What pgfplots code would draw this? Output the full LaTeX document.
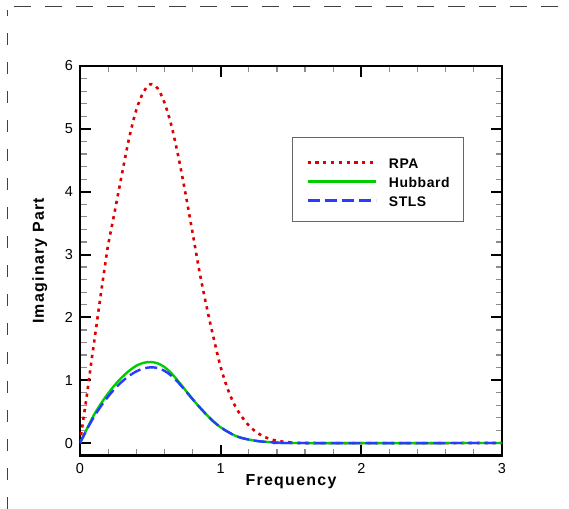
\documentclass[border=0pt]{standalone}
\usepackage{pgfplots}
\pgfplotsset{compat=1.18}
\usepackage{fontspec}
\setmainfont{Liberation Sans}
\newfontfamily\lblfont[LetterSpace=8]{Liberation Sans}
\newfontfamily\legfont[LetterSpace=4]{Liberation Sans}

\definecolor{rpared}{RGB}{222,0,0}
\definecolor{hubgreen}{RGB}{0,205,0}
\definecolor{stlsblue}{RGB}{40,60,255}

\pgfplotstableread{
x y
0 0
0.025 0.40
0.05 0.78
0.075 1.20
0.1 1.60
0.125 2.00
0.15 2.40
0.175 2.78
0.2 3.15
0.25 3.72
0.3 4.30
0.35 4.86
0.4 5.30
0.45 5.58
0.5 5.71
0.55 5.65
0.6 5.42
0.65 5.05
0.7 4.55
0.75 3.97
0.8 3.35
0.85 2.72
0.9 2.17
0.95 1.67
1.0 1.21
1.05 0.86
1.1 0.60
1.15 0.42
1.2 0.28
1.25 0.18
1.3 0.11
1.35 0.065
1.4 0.035
1.45 0.02
1.5 0.01
1.6 0.0
3.0 0.0
}\rpa

\pgfplotstableread{
x y
0 0
0.05 0.23
0.1 0.45
0.15 0.63
0.2 0.79
0.25 0.93
0.3 1.05
0.35 1.15
0.4 1.23
0.45 1.275
0.5 1.29
0.55 1.27
0.6 1.21
0.65 1.11
0.7 0.98
0.75 0.84
0.8 0.70
0.85 0.57
0.9 0.45
0.95 0.34
1.0 0.25
1.05 0.18
1.1 0.12
1.15 0.08
1.2 0.055
1.25 0.035
1.3 0.022
1.4 0.008
1.5 0.0
3.0 0.0
}\hubbard

\pgfplotstableread{
x y
0 0
0.05 0.22
0.1 0.42
0.15 0.59
0.2 0.74
0.25 0.87
0.3 0.98
0.35 1.07
0.4 1.14
0.45 1.185
0.5 1.205
0.55 1.195
0.6 1.15
0.65 1.07
0.7 0.96
0.75 0.83
0.8 0.70
0.85 0.57
0.9 0.45
0.95 0.34
1.0 0.25
1.05 0.18
1.1 0.12
1.15 0.08
1.2 0.055
1.25 0.035
1.3 0.022
1.4 0.008
1.5 0.0
3.0 0.0
}\stls

\begin{document}
\begin{tikzpicture}
\path[use as bounding box] (0bp,0bp) rectangle (569bp,509bp);
% screenshot frame
\draw[black!75, line width=0.8bp, dash pattern=on 17bp off 14bp] (14bp,503bp) -- (569bp,503bp);
\draw[black!75, line width=0.8bp, dash pattern=on 12bp off 17bp] (7bp,0bp) -- (7bp,499bp);

\begin{axis}[
    at={(80bp,53.4bp)}, anchor=south west,
    scale only axis,
    width=422bp, height=389.6bp,
    xmin=0, xmax=3, ymin=-0.2, ymax=6,
    xtick={0,1,2,3}, ytick={0,1,2,3,4,5,6},
    minor x tick num=4, minor y tick num=4,
    axis line style={line width=2.2bp},
    major tick length=11bp, minor tick length=6.5bp,
    every major tick/.append style={line width=2bp, black},
    every minor tick/.append style={line width=1.2bp, black!45},
    /pgf/number format/assume math mode=true,
    ticklabel style={font=\fontsize{14.5}{16}\selectfont},
    xticklabel style={yshift=-4bp},
    yticklabel style={xshift=-3.5bp},
    xlabel={\lblfont\bfseries Frequency},
    ylabel={\lblfont\bfseries Imaginary Part},
    label style={font=\fontsize{16}{19}\selectfont},
    xlabel style={at={(axis description cs:0.5,0)}, anchor=base, inner sep=0pt, yshift=-30bp},
    ylabel style={at={(axis description cs:0,0.5)}, anchor=base, inner sep=0pt, yshift=36bp},
    legend style={
        at={(axis description cs:0.502,0.818)}, anchor=north west,
        draw=black!60, line width=1bp,
        inner xsep=14bp, inner ysep=15bp,
        row sep=3bp,
        font=\fontsize{14}{16}\selectfont\legfont\bfseries,
        nodes={inner sep=0bp, text height=16bp, text depth=0bp},
        cells={anchor=base west},
        /tikz/every odd column/.append style={column sep=12bp},
    },
    legend cell align=left,
    legend image code/.code={\draw[#1] (0bp,-2bp) -- (68bp,-2bp);},
]
\addplot[rpared, line width=2.6bp, dash pattern=on 3.2bp off 4.6bp, smooth] table {\rpa};
\addlegendentry{RPA}
\addplot[hubgreen, line width=2.4bp, smooth] table {\hubbard};
\addlegendentry{Hubbard}
\addplot[stlsblue, line width=2.4bp, dash pattern=on 12bp off 5bp, smooth] table {\stls};
\addlegendentry{STLS}
\end{axis}
\end{tikzpicture}
\end{document}
